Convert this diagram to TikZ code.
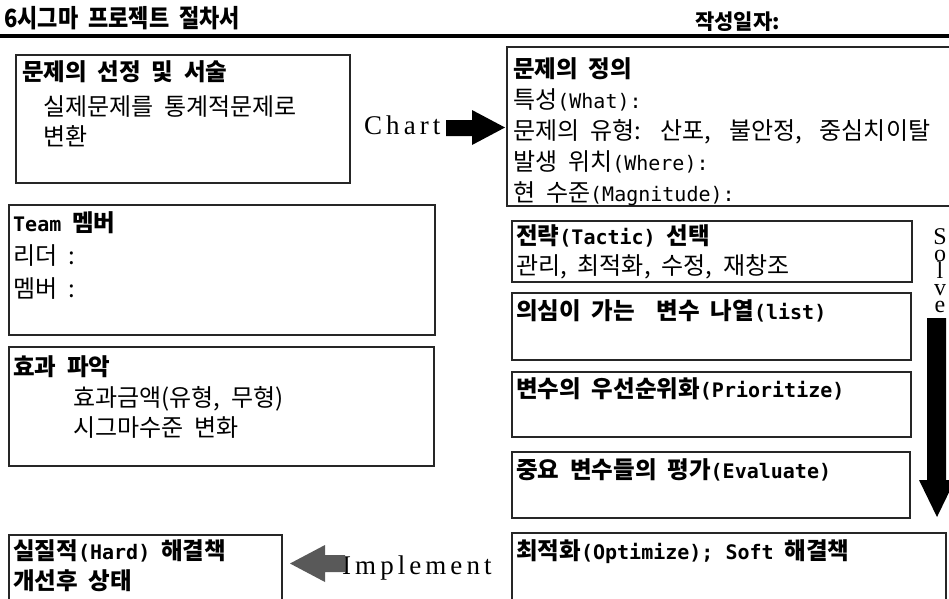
\documentclass[tikz,border=0pt]{standalone}
\usepackage{fontspec}
\setmainfont{Noto Sans CJK KR}[WordSpace=2.0]
\newfontfamily\monof{DejaVu Sans Mono}
\newfontfamily\serifw{Liberation Serif}[LetterSpace=15]
\newfontfamily\serifn{Liberation Serif}
\newcommand\lat[1]{{\monof\fontsize{20}{24}\selectfont #1}}
\newcommand\bx[5]{\node[box, minimum width=#4pt, minimum height=#5pt] (#1) at (#2,#3) {};}
\begin{document}
\begin{tikzpicture}[x=1pt,y=-1pt,
  box/.style={draw=black!85, line width=1.1pt, inner sep=0pt, outer sep=0pt, anchor=north west},
  txt/.style={anchor=base west, inner sep=0pt, font=\fontsize{24}{28}\selectfont},
  hd/.style={anchor=base west, inner sep=0pt, font=\fontsize{23.5}{28}\selectfont\bfseries},
  lbl/.style={anchor=base west, inner sep=0pt, font=\serifw\fontsize{27}{30}\selectfont},
  sv/.style={anchor=base, inner sep=0pt, font=\serifn\fontsize{24}{26}\selectfont},
  blk/.style={fill=black, draw=none}]
\useasboundingbox (0,0) rectangle (949,598);
\clip (0,0) rectangle (949,598);
\fill[white] (0,0) rectangle (949,598);
% header
\node[anchor=base west, inner sep=0pt, font=\fontsize{25}{28}\selectfont\bfseries] (title) at (4,27) {\scalebox{0.88}[1]{6시그마 프로젝트 절차서}};
\node[anchor=base west, inner sep=0pt, font=\fontsize{21}{24}\selectfont\bfseries] (date) at (695,29) {작성일자:};
\coordinate (rl) at (0,36);
\coordinate (rr) at (949,36);
\draw[line width=4.5pt] (rl) -- (rr);
% boxes
\bx{A}{16}{55}{334}{128}
\bx{team}{9}{205}{426}{130}
\bx{eff}{9}{347}{425}{119}
\bx{hard}{9}{535}{273}{70}
\bx{def}{507}{47}{450}{159}
\bx{tac}{512}{221}{400}{61}
\bx{lst}{512}{293}{399}{67}
\bx{pri}{512}{372}{399}{65}
\bx{eva}{512}{452}{398}{66}
\bx{opt}{512}{533}{434}{70}
% left texts
\node[hd] (a1) at (22,80) {문제의 선정 및 서술};
\node[txt] (a2) at (43,115) {실제문제를 통계적문제로};
\node[txt] (a3) at (43,145) {변환};
\node[hd] (t1) at (13,231) {\lat{Team} 멤버};
\node[txt] (t2) at (13,264) {리더 :};
\node[txt] (t3) at (13,297) {멤버 :};
\node[hd] (e1) at (13,375) {효과 파악};
\node[txt] (e2) at (73,406) {효과금액(유형, 무형)};
\node[txt] (e3) at (73,436) {시그마수준 변화};
\node[hd] (h1) at (13,559) {실질적\lat{(Hard)} 해결책};
\node[hd] (h2) at (13,589) {개선후 상태};
% right texts
\node[hd] (d1) at (513,77) {문제의 정의};
\node[txt] (d2) at (513,108) {특성\lat{(What):}};
\node[txt] (d3) at (513,139) {문제의 유형:\hspace{7pt} 산포,\hspace{7pt} 불안정,\hspace{7pt} 중심치이탈};
\node[txt] (d4) at (513,170.5) {발생 위치\lat{(Where):}};
\node[txt] (d5) at (513,201.5) {현 수준\lat{(Magnitude):}};
\node[hd] (c1) at (516,244) {전략\lat{(Tactic)} 선택};
\node[txt] (c2) at (516,274) {관리, 최적화, 수정, 재창조};
\node[hd] (l1) at (516,319) {의심이 가는\hspace{11pt} 변수 나열\lat{(list)}};
\node[hd] (p1) at (516,397) {변수의 우선순위화\lat{(Prioritize)}};
\node[hd] (v1) at (516,478) {중요 변수들의 평가\lat{(Evaluate)}};
\node[hd] (o1) at (516,559) {최적화\lat{(Optimize);\ Soft} 해결책};
% Chart arrow
\node[lbl] (chart) at (364,134) {Chart};
\fill[blk] (446,120) -- (472,120) -- (472,110) -- (505,127.5) -- (472,145) -- (472,136) -- (446,136) -- cycle;
% Implement arrow
\node[lbl] (impl) at (342,574) {Implement};
\fill[black!65] (345,555) -- (325,555) -- (325,545) -- (290,563.5) -- (325,582) -- (325,572) -- (345,572) -- cycle;
% Solve arrow
\node[sv] (s1) at (940,244) {S};
\node[sv] (s2) at (940,261) {o};
\node[sv] (s3) at (940,278) {l};
\node[sv] (s4) at (940,295) {v};
\node[sv] (s5) at (940,312) {e};
\fill[blk] (927,318) -- (946,318) -- (946,480) -- (955,480) -- (937,517) -- (919,480) -- (927,480) -- cycle;
\end{tikzpicture}
\end{document}
